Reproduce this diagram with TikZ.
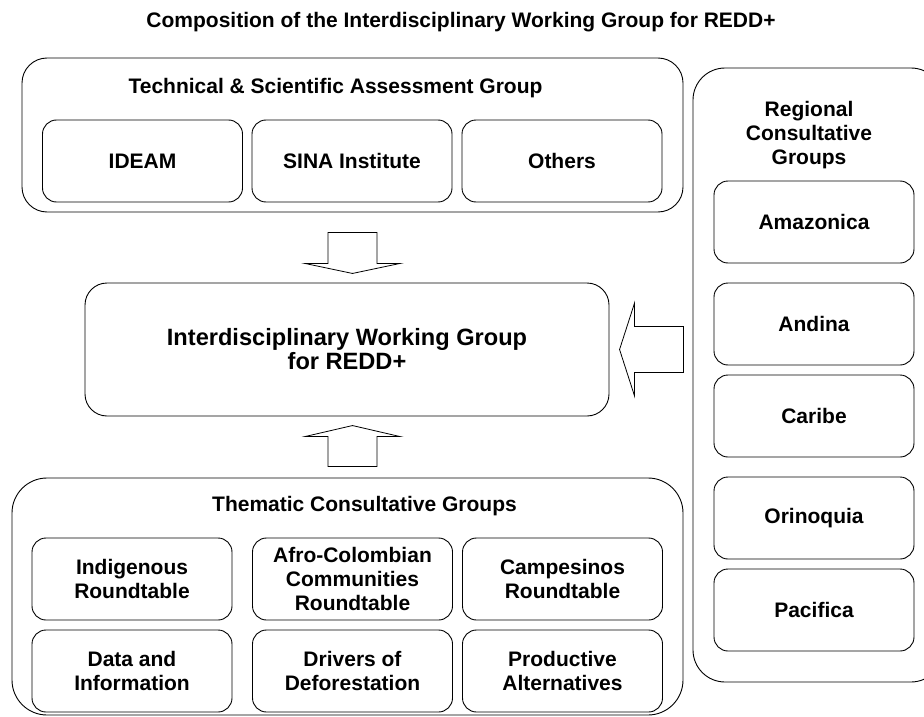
\documentclass[tikz,border=0pt]{standalone}
\usepackage{fontspec}
\setmainfont{Liberation Sans}
\usepackage{tikz}
\usetikzlibrary{positioning, calc}

\begin{document}
\begin{tikzpicture}[
    x=1pt, y=-1pt,
    line width=0.9pt,
    every node/.style={font=\fontsize{21}{24}\selectfont\bfseries, align=center},
    group/.style={draw, rectangle, rounded corners=#1, inner sep=0pt},
    unit/.style={draw, rectangle, rounded corners=14pt, minimum width=200pt, minimum height=82pt, inner sep=0pt},
    hub/.style={draw, rectangle, rounded corners=22pt, minimum width=524pt, minimum height=133pt, font=\fontsize{23.6}{24}\selectfont\bfseries},
    blockarrow/.style={draw, line width=0.8pt, line join=miter}
]
    \useasboundingbox (0,0) rectangle (924,717);

    % Title
    \node (title) at (461, 22) {Composition of the Interdisciplinary Working Group for REDD+};

    % Technical group
    \node[group=25pt, minimum width=661pt, minimum height=154pt] (tech) at (352.5, 135) {};
    \node (techlabel) at (335.5, 88) {Technical \& Scientific Assessment Group};
    \node[unit] (ideam) at (142.5, 161) {IDEAM};
    \node[unit] (sina) at (352, 161) {SINA Institute};
    \node[unit] (others) at (562, 161) {Others};

    % Central group
    \node[hub] (iwg) at (347, 349.5) {Interdisciplinary Working Group\\for REDD+};

    % Regional groups
    \node[group=32pt, minimum width=250pt, minimum height=614pt] (regional) at (818, 375) {};
    \node (reglabel) at (809, 135) {Regional\\Consultative\\Groups};
    \node[unit] (amazonica) at (814, 222) {Amazonica};
    \node[unit] (andina) at (814, 324) {Andina};
    \node[unit] (caribe) at (814, 416) {Caribe};
    \node[unit] (orinoquia) at (814, 518) {Orinoquia};
    \node[unit] (pacifica) at (814, 610) {Pacifica};

    % Thematic groups
    \node[group=35pt, minimum width=671pt, minimum height=237pt] (thematic) at (347.5, 596.5) {};
    \node (themlabel) at (364.5, 506) {Thematic Consultative Groups};
    \node[unit] (indigenous) at (132, 579) {Indigenous\\Roundtable};
    \node[unit] (afro) at (352.5, 579) {Afro-Colombian\\Communities\\Roundtable};
    \node[unit] (campesinos) at (562.5, 579) {Campesinos\\Roundtable};
    \node[unit] (data) at (132, 671) {Data and\\Information};
    \node[unit] (drivers) at (352.5, 671) {Drivers of\\Deforestation};
    \node[unit] (productive) at (562.5, 671) {Productive\\Alternatives};

    % Block arrows
    \draw[blockarrow] ($(tech.south)+(-24.5,20)$) -- ++(49,0) -- ++(0,31) -- ++(23,0)
        -- ++(-47.5,10) -- ++(-47.5,-10) -- ++(23,0) -- cycle;
    \draw[blockarrow] ($(thematic.north)+(-19.5,-11)$) -- ++(49,0) -- ++(0,-30) -- ++(23,0)
        -- ++(-47.5,-11) -- ++(-47.5,11) -- ++(23,0) -- cycle;
    \draw[blockarrow] ($(regional.west |- iwg.east)+(-9,-23)$) -- ++(0,46) -- ++(-49,0) -- ++(0,23.5)
        -- ++(-15,-46.5) -- ++(15,-46.5) -- ++(0,23.5) -- cycle;

\end{tikzpicture}
\end{document}
